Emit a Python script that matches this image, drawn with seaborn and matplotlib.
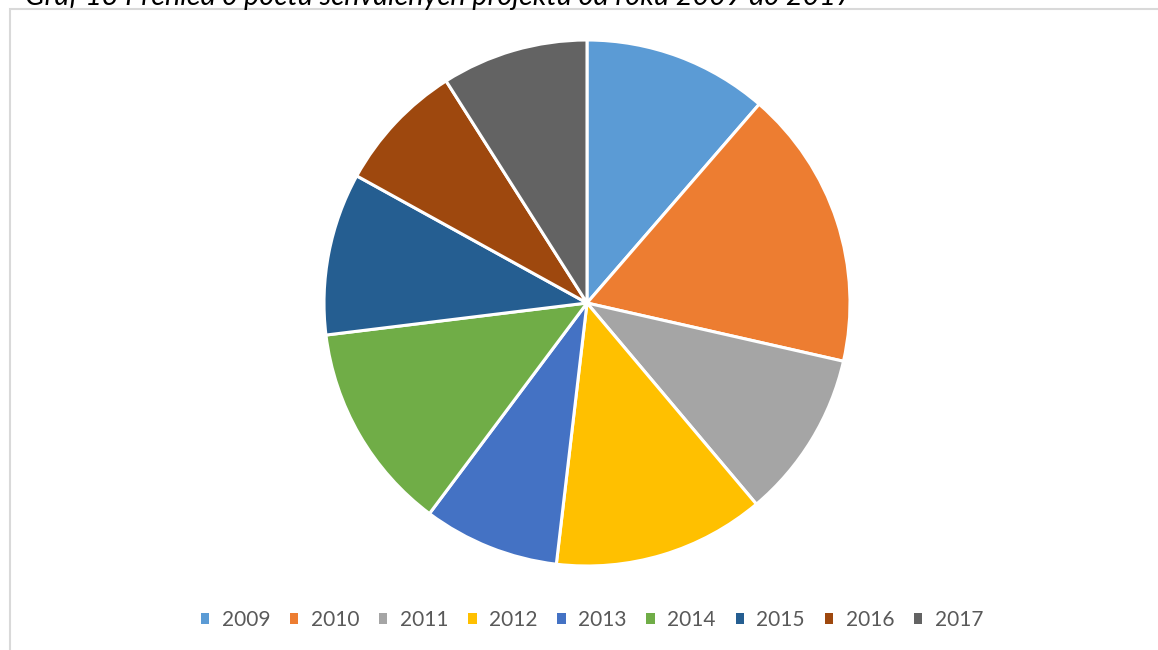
import matplotlib
matplotlib.use("Agg")
import matplotlib.pyplot as plt
from matplotlib.patches import Rectangle, Patch
import seaborn as sns

# data (slice shares)
years = ["2009", "2010", "2011", "2012", "2013", "2014", "2015", "2016", "2017"]
values = [40.9, 61.9, 37.1, 46.8, 30.1, 46.2, 35.9, 28.7, 32.4]
colors = ["#5B9BD5", "#ED7D31", "#A5A5A5", "#FFC000", "#4472C4",
          "#70AD47", "#255E91", "#9E480E", "#636363"]
title = "Graf 13 Přehled o počtu schválených projektů od roku 2009 do 2017"

sns.set_theme(style="white")
plt.rcParams['font.family'] = ['Lato', 'DejaVu Sans']

W, H = 1158, 650
fig = plt.figure(figsize=(W / 100, H / 100), dpi=100)
fig.patch.set_facecolor("white")

# chart frame (light grey, runs off right and bottom edges)
fig.patches.append(Rectangle((10 / W, -0.1), 1.2, 1.1 - 9 / H, transform=fig.transFigure,
                             fill=False, edgecolor="#D9D9D9", linewidth=1.5))

# caption, cut off at the top like in the source
t = fig.text(25 / W, 1 - 5 / H, title, ha="left", va="baseline", fontsize=20,
             style="italic", color="black")
fig.canvas.draw()
w = t.get_window_extent().width
t.set_fontsize(20 * 825 / w)

cx, cy, r = 587, 303, 263
ax = fig.add_axes([(cx - r) / W, (H - cy - r) / H, 2 * r / W, 2 * r / H])
pal = sns.color_palette(colors)
ax.pie(values, colors=pal, startangle=90, counterclock=False, radius=1,
       wedgeprops=dict(edgecolor="white", linewidth=2.2))
ax.set_xlim(-1, 1)
ax.set_ylim(-1, 1)
ax.set_aspect("equal")
ax.axis("off")

handles = [Patch(facecolor=c, edgecolor="none", label=y) for c, y in zip(pal, years)]
fig.legend(handles=handles, loc="center", bbox_to_anchor=(592 / W, 1 - 620 / H), ncol=9,
           frameon=False, fontsize=15, handlelength=0.4, handleheight=0.4,
           handletextpad=0.6, columnspacing=0.95, labelcolor="#595959",
           borderpad=0, borderaxespad=0)

fig.savefig("out.png", dpi=100, facecolor="white")
